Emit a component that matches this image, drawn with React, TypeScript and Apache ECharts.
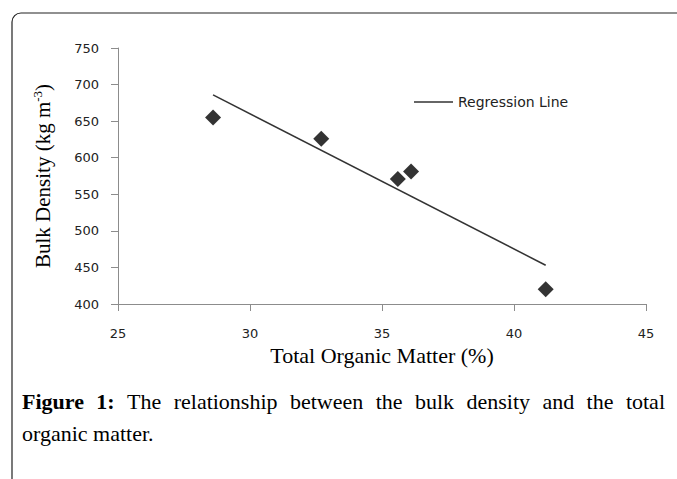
import React, { useEffect, useRef } from "react";
import * as echarts from "echarts";

// Data
const organicMatter = [28.6, 32.7, 35.6, 36.1, 41.2];
const bulkDensity = [655, 626, 571, 581, 420];
const regressionX = [28.6, 41.2];
const regressionY = [686, 453];
const xTicks = { min: 25, max: 45, interval: 5 };
const yTicks = { min: 400, max: 750, interval: 50 };

const captionLine1Bold = ["Figure", "1:"];
const captionLine1 = ["The", "relationship", "between", "the", "bulk", "density", "and", "the", "total"];
const captionLine2 = "organic matter.";

const W = 677;
const H = 479;
const SERIF = '"Liberation Serif", "Times New Roman", serif';
const SANS = '"DejaVu Sans", Verdana, sans-serif';

function measure(text: string, font: string): number {
  const c = document.createElement("canvas").getContext("2d");
  if (!c) return text.length * 9;
  c.font = font;
  return c.measureText(text).width;
}

export default function App() {
  const ref = useRef<HTMLDivElement>(null);
  useEffect(() => {
    document.body.style.margin = "0";
    if (!ref.current) return;
    const chart = echarts.init(ref.current, null, { renderer: "svg" });

    const capSize = 22;
    const capLeft = 22;
    const capRight = 665;
    const capY1 = 401;
    const capY2 = 433;
    const tokens = [
      ...captionLine1Bold.map((t) => ({ t, bold: true })),
      ...captionLine1.map((t) => ({ t, bold: false })),
    ];
    const widths = tokens.map((k) =>
      measure(k.t, `${k.bold ? "bold " : ""}${capSize}px ${SERIF}`)
    );
    const total = widths.reduce((a, b) => a + b, 0);
    const gap = (capRight - capLeft - total) / (tokens.length - 1);
    let cx = capLeft;
    const captionEls: any[] = tokens.map((k, i) => {
      const el = {
        type: "text",
        x: cx,
        y: capY1,
        silent: true,
        style: {
          text: k.t,
          fontSize: capSize,
          fontFamily: SERIF,
          fontWeight: k.bold ? "bold" : "normal",
          fill: "#000",
          verticalAlign: "middle",
          align: "left",
        },
      };
      cx += widths[i] + gap;
      return el;
    });
    captionEls.push({
      type: "text",
      x: capLeft,
      y: capY2,
      silent: true,
      style: {
        text: captionLine2,
        fontSize: capSize,
        fontFamily: SERIF,
        fill: "#000",
        verticalAlign: "middle",
        align: "left",
      },
    });

    const axisGray = "#8c8c8c";

    chart.setOption({
      animation: false,
      backgroundColor: "#fff",
      grid: { left: 118, right: W - 646, top: 48, bottom: H - 304 },
      legend: {
        data: [{ name: "Regression Line", icon: "rect" }],
        left: 414,
        top: 95,
        padding: 0,
        itemWidth: 39,
        itemHeight: 1.5,
        textStyle: { fontFamily: SANS, fontSize: 14, color: "#222" },
      },
      xAxis: {
        type: "value",
        min: xTicks.min,
        max: xTicks.max,
        interval: xTicks.interval,
        name: "Total Organic Matter (%)",
        nameLocation: "middle",
        nameGap: 29,
        nameTextStyle: { fontFamily: SERIF, fontSize: 22, color: "#000", verticalAlign: "top" },
        splitLine: { show: false },
        axisLine: { show: true, lineStyle: { color: axisGray, width: 1 } },
        axisTick: { show: true, inside: false, length: 7, lineStyle: { color: axisGray } },
        axisLabel: { margin: 23, fontFamily: SANS, fontSize: 13, color: "#222" },
      },
      yAxis: {
        type: "value",
        min: yTicks.min,
        max: yTicks.max,
        interval: yTicks.interval,
        name: "{a|Bulk Density (kg m}{s|-3}{a|)}",
        nameLocation: "middle",
        nameGap: 63,
        nameRotate: 90,
        nameTextStyle: {
          rich: {
            a: { fontFamily: SERIF, fontSize: 21, color: "#000" },
            s: { fontFamily: SERIF, fontSize: 13, color: "#000", padding: [0, 0, 11, 0] },
          },
        },
        splitLine: { show: false },
        axisLine: { show: true, lineStyle: { color: axisGray, width: 1 } },
        axisTick: { show: true, inside: false, length: 7, lineStyle: { color: axisGray } },
        axisLabel: { margin: 19, fontFamily: SANS, fontSize: 13, color: "#222" },
      },
      series: [
        {
          type: "scatter",
          name: "Data",
          symbol: "diamond",
          symbolSize: 16,
          itemStyle: { color: "#000" },
          data: organicMatter.map((x, i) => [x, bulkDensity[i]]),
          z: 3,
        },
        {
          type: "line",
          name: "Regression Line",
          symbol: "none",
          showSymbol: false,
          lineStyle: { color: "#333", width: 1.5 },
          itemStyle: { color: "#333" },
          data: regressionX.map((x, i) => [x, regressionY[i]]),
          z: 2,
        },
      ],
      graphic: [
        {
          type: "rect",
          silent: true,
          z: -10,
          shape: { x: 12, y: 13, width: 900, height: 700, r: [9, 0, 0, 0] },
          style: { fill: "none", stroke: "#222", lineWidth: 1.2 },
        },
        ...captionEls,
      ],
    });
    return () => chart.dispose();
  }, []);
  return <div ref={ref} style={{ width: W, height: H }} />;
}
